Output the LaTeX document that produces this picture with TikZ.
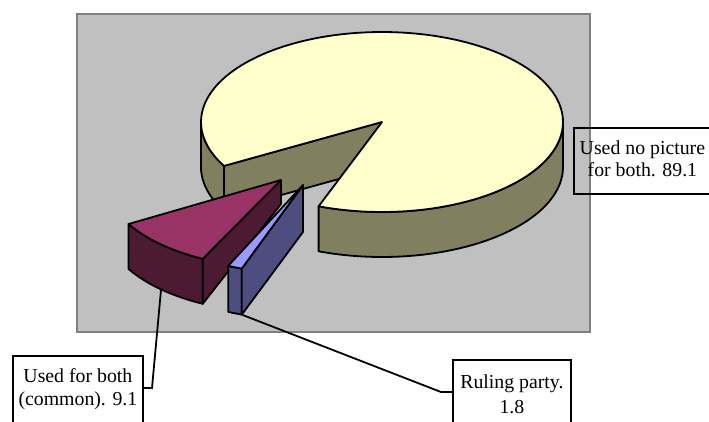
\documentclass[tikz,border=0pt]{standalone}
\usepackage{fontspec}
\setmainfont{Liberation Serif}
\definecolor{bggray}{HTML}{C0C0C0}
\definecolor{bgline}{HTML}{808080}
\definecolor{pietop}{HTML}{FFFFCC}
\definecolor{pieside}{HTML}{808060}
\definecolor{purtop}{HTML}{993366}
\definecolor{purside}{HTML}{4D1A33}
\definecolor{blutop}{HTML}{9999FF}
\definecolor{bluside}{HTML}{4D4D80}
\tikzset{
  face/.style={draw=black, line width=1.8pt, line join=round},
  conn/.style={draw=black, line width=1.8pt},
  lbl/.style={draw=black, line width=1.8pt, align=center, inner xsep=0pt},
}
\begin{document}
\begin{tikzpicture}[x=1pt,y=-1pt]
\useasboundingbox (0,0) rectangle (709,421);
% plot area
\filldraw[fill=bggray, draw=bgline, line width=1.8pt] (77,14) rectangle (590,332);
% big slice (89.1)
\filldraw[face, fill=pieside] ({382+181*cos(150.8)},{122+90*sin(150.8)}) -- (382,122) -- (382,167) -- ({382+181*cos(150.8)},{167+90*sin(150.8)}) -- cycle;
\filldraw[face, fill=pieside] plot[domain=0:110.5, samples=40, smooth] ({382+181*cos(\x)},{122+90*sin(\x)}) -- plot[domain=110.5:0, samples=40, smooth] ({382+181*cos(\x)},{167+90*sin(\x)}) -- cycle;
\filldraw[face, fill=pieside] plot[domain=150.8:180, samples=15, smooth] ({382+181*cos(\x)},{122+90*sin(\x)}) -- plot[domain=180:150.8, samples=15, smooth] ({382+181*cos(\x)},{167+90*sin(\x)}) -- cycle;
\filldraw[face, fill=pietop] (382,122) -- plot[domain=150.8:470.5, samples=120, smooth] ({382+181*cos(\x)},{122+90*sin(\x)}) -- cycle;
% purple slice (9.1)
\filldraw[face, fill=purside] plot[domain=116.4:150, samples=20, smooth] ({281+176*cos(\x)},{180+88*sin(\x)}) -- plot[domain=150:116.4, samples=20, smooth] ({281+176*cos(\x)},{225+88*sin(\x)}) -- cycle;
\filldraw[face, fill=purside] (281,180) -- ({281+176*cos(116.4)},{180+88*sin(116.4)}) -- ({281+176*cos(116.4)},{225+88*sin(116.4)}) -- (281,204) -- cycle;
\filldraw[face, fill=purtop] (281,180) -- plot[domain=116.4:150, samples=20, smooth] ({281+176*cos(\x)},{180+88*sin(\x)}) -- cycle;
% blue slice (1.8)
\filldraw[face, fill=bluside] plot[domain=110:114.7, samples=5, smooth] ({303+179*cos(\x)},{185+89*sin(\x)}) -- plot[domain=114.7:110, samples=5, smooth] ({303+179*cos(\x)},{231+89*sin(\x)}) -- cycle;
\filldraw[face, fill=bluside] (303,185) -- ({303+179*cos(110)},{185+89*sin(110)}) -- ({303+179*cos(110)},{231+89*sin(110)}) -- (303,232) -- cycle;
\filldraw[face, fill=blutop] (303,185) -- plot[domain=110:114.7, samples=5, smooth] ({303+179*cos(\x)},{185+89*sin(\x)}) -- cycle;
% labels
\node[lbl, anchor=north west, minimum width=137pt, minimum height=66pt, inner ysep=0pt, font=\fontsize{19.8}{22}\selectfont] (lblnone) at (573,127)
  {\strut Used no picture\\ \strut for both. 89.1};
\node[lbl, anchor=north west, minimum width=130pt, inner ysep=10.9pt, font=\fontsize{19.8}{23}\selectfont] (lblboth) at (12,355)
  {\strut Used for both\\ \strut (common). 9.1};
\node[lbl, anchor=north west, minimum width=118pt, inner ysep=11.5pt, font=\fontsize{19.8}{25}\selectfont] (lblrule) at (452,359)
  {\strut Ruling party.\\ \strut 1.8};
% connectors
\coordinate (pa) at (161,290);
\coordinate (pb) at (152,388);
\coordinate (ba) at ({303+179*cos(110)},{231+89*sin(110)});
\coordinate (bb) at (441,392);
\draw[conn] (pa) -- (pb) -- (lblboth.east |- pb);
\draw[conn] (ba) -- (bb) -- (lblrule.west |- bb);
\end{tikzpicture}
\end{document}
